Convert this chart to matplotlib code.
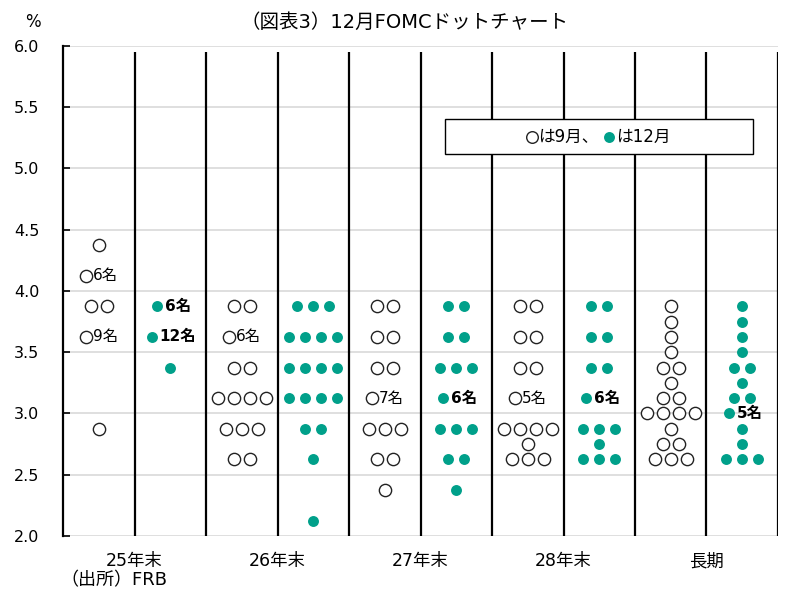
import numpy as np
import matplotlib
matplotlib.use("Agg")
import matplotlib.pyplot as plt
from matplotlib.patches import Rectangle

# Latin glyphs from DejaVu, kana/kanji from Noto CJK
plt.rcParams['font.family'] = ['DejaVu Sans', 'Noto Sans CJK JP']

# ----------------------------
# DATA (政策金利見通し, %)
# ----------------------------
categories = ['25年末', '26年末', '27年末', '28年末', '長期']

# 9月 (white dots)
sep_25_rate = [4.375, 4.125, 3.875, 3.625, 2.875]
sep_25_n = [1, 6, 2, 9, 1]
sep_26_rate = [3.875, 3.625, 3.375, 3.125, 2.875, 2.625]
sep_26_n = [2, 6, 2, 4, 3, 2]
sep_27_rate = [3.875, 3.625, 3.375, 3.125, 2.875, 2.625, 2.375]
sep_27_n = [2, 2, 2, 7, 3, 2, 1]
sep_28_rate = [3.875, 3.625, 3.375, 3.125, 2.875, 2.75, 2.625]
sep_28_n = [2, 2, 2, 5, 4, 1, 3]
sep_lr_rate = [3.875, 3.75, 3.625, 3.5, 3.375, 3.25, 3.125, 3.0, 2.875, 2.75, 2.625]
sep_lr_n = [1, 1, 1, 1, 2, 1, 2, 4, 1, 2, 3]

# 12月 (teal dots)
dec_25_rate = [3.875, 3.625, 3.375]
dec_25_n = [6, 12, 1]
dec_26_rate = [3.875, 3.625, 3.375, 3.125, 2.875, 2.625, 2.125]
dec_26_n = [3, 4, 4, 4, 2, 1, 1]
dec_27_rate = [3.875, 3.625, 3.375, 3.125, 2.875, 2.625, 2.375]
dec_27_n = [2, 2, 3, 6, 3, 2, 1]
dec_28_rate = [3.875, 3.625, 3.375, 3.125, 2.875, 2.75, 2.625]
dec_28_n = [2, 2, 2, 6, 3, 1, 3]
dec_lr_rate = [3.875, 3.75, 3.625, 3.5, 3.375, 3.25, 3.125, 3.0, 2.875, 2.75, 2.625]
dec_lr_n = [1, 1, 1, 1, 2, 1, 2, 5, 1, 1, 3]

sep_cols = [(sep_25_rate, sep_25_n), (sep_26_rate, sep_26_n), (sep_27_rate, sep_27_n),
            (sep_28_rate, sep_28_n), (sep_lr_rate, sep_lr_n)]
dec_cols = [(dec_25_rate, dec_25_n), (dec_26_rate, dec_26_n), (dec_27_rate, dec_27_n),
            (dec_28_rate, dec_28_n), (dec_lr_rate, dec_lr_n)]

TEAL = '#00A08A'
PX = 1 / 71.5  # one pixel in x data units
LABEL_MIN = 5  # rows with this many members get a count label


def draw_marks(ax, xs, ys, hollow):
    if hollow:
        ax.scatter(xs, ys, s=78, facecolor='white', edgecolor='#222222',
                   linewidth=1.0, zorder=3)
    else:
        ax.scatter(xs, ys, s=62, color=TEAL, linewidth=0, zorder=3)


def draw_column(ax, xc, rates, counts, hollow):
    for r, n in zip(rates, counts):
        if n >= LABEL_MIN:
            nd = len(str(n))
            xd = xc - (8 + 5.25 * nd) * PX
            draw_marks(ax, [xd], [r], hollow)
            ax.text(xd + 7.5 * PX, r, f'{n}名', ha='left', va='center',
                    fontsize=11, color='black',
                    fontweight='normal' if hollow else 'bold', zorder=4)
        else:
            xs = xc + (np.arange(n) - (n - 1) / 2) * 16 * PX
            draw_marks(ax, xs, [r] * n, hollow)


fig = plt.figure(figsize=(7.88, 5.91), dpi=100)
ax = fig.add_axes([0.080, 0.0931, 0.9073, 0.8291])

ax.set_xlim(0, 10)
ax.set_ylim(2.0, 6.0)

# column separators
for xv in range(1, 11):
    ax.plot([xv, xv], [2.0, 5.95], color='black', lw=1.6, zorder=2,
            solid_capstyle='butt')

for i in range(len(categories)):
    draw_column(ax, 2 * i + 0.5, *sep_cols[i], hollow=True)
    draw_column(ax, 2 * i + 1.5, *dec_cols[i], hollow=False)

# axes styling
yt = np.arange(2.0, 6.01, 0.5)
ax.set_yticks(yt)
ax.set_yticklabels([f'{v:.1f}' for v in yt])
ax.tick_params(axis='y', direction='in', length=5, width=1.2, labelsize=11.5, pad=17)
ax.set_xticks([1, 3, 5, 7, 9])
ax.set_xticklabels(categories, va='center')
ax.tick_params(axis='x', length=0, labelsize=12.5, pad=18)
ax.yaxis.grid(True, color='#d9d9d9', lw=1.2)
ax.set_axisbelow(True)
for side in ['top', 'right', 'bottom']:
    ax.spines[side].set_visible(False)
ax.spines['left'].set_linewidth(1.6)

# legend box
ax.add_patch(Rectangle((5.34, 5.118), 4.31, 0.286, facecolor='white',
                       edgecolor='black', lw=1.0, zorder=5))
ax.scatter([6.56], [5.257], s=70, facecolor='white', edgecolor='#222222',
           linewidth=1.0, zorder=6)
ax.text(6.64, 5.257, 'は9月、', ha='left', va='center', fontsize=12, zorder=6)
ax.scatter([7.64], [5.257], s=62, color=TEAL, linewidth=0, zorder=6)
ax.text(7.74, 5.257, 'は12月', ha='left', va='center', fontsize=12, zorder=6)

fig.text(0.514, 0.962, '（図表3）12月FOMCドットチャート', ha='center', va='center', fontsize=14)
fig.text(0.042, 0.962, '%', ha='center', va='center', fontsize=12)
fig.text(0.077, 0.018, '（出所）FRB', ha='left', va='center', fontsize=13)

fig.savefig('out.png', dpi=100)
